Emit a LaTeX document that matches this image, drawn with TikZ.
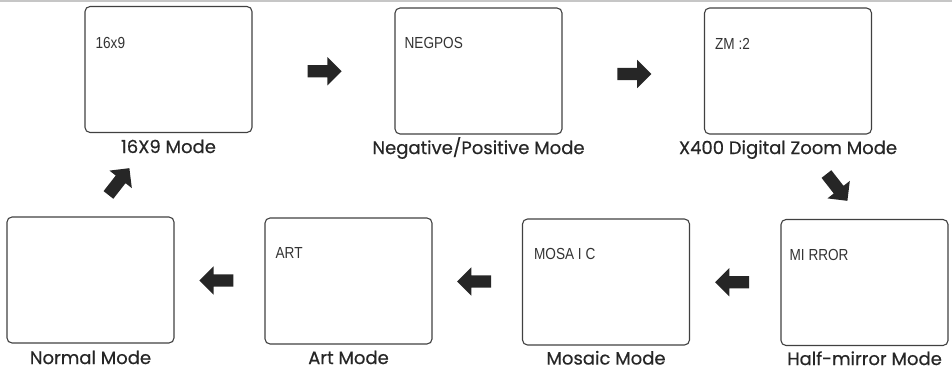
\documentclass[tikz,border=0pt]{standalone}
\usepackage{fontspec}
\setmainfont{Poppins}[FakeBold=0.5]
\newfontfamily\scrfont{Liberation Sans}
\usetikzlibrary{shapes.arrows,calc}
\begin{document}
\begin{tikzpicture}[x=1pt,y=1pt,
  screen/.style={draw=black!75, line width=1.1pt, rounded corners=5pt,
    minimum width=167pt, minimum height=126pt, inner sep=0pt},
  lbl/.style={font=\fontsize{18}{20}\selectfont, text=black!85, inner sep=0pt, anchor=base},
  scr/.style={font=\scrfont\fontsize{16}{18}\selectfont, text=black!80, inner sep=0pt, anchor=west, xscale=0.85},
  blk/.style={single arrow, fill=black!85, draw=none, minimum width=28pt,
    minimum height=34pt, single arrow head extend=8pt, inner xsep=0pt, inner ysep=6pt}]
\useasboundingbox (0,0) rectangle (952,370);
\draw[gray!45, line width=1.2pt] (0,369) -- (952,369);
% screens
\node[screen] (b1) at (168.5,300.5) {};
\node[screen] (b2) at (478.5,299) {};
\node[screen] (b3) at (788,299) {};
\node[screen] (nm) at (90.5,90) {};
\node[screen] (ar) at (348.5,89) {};
\node[screen] (ms) at (606,88) {};
\node[screen] (mr) at (864.5,87.5) {};
% screen texts
\node[scr] (t1) at ($(b1.north west)+(11,-37)$) {16x9};
\node[scr] (t2) at ($(b2.north west)+(10,-36)$) {NEGPOS};
\node[scr] (t3) at ($(b3.north west)+(11,-36)$) {ZM :2};
\node[scr] (t5) at ($(ar.north west)+(11,-36)$) {ART};
\node[scr] (t6) at ($(ms.north west)+(12,-36)$) {MOSA I C};
\node[scr] (t7) at ($(mr.north west)+(9,-36)$) {MI RROR};
% labels
\node[lbl] (l1) at ($(b1.south)+(0,-20)$) {16X9 Mode};
\node[lbl] (l2) at ($(b2.south)+(0,-19.5)$) {Negative/Positive Mode};
\node[lbl] (l3) at ($(b3.south)+(0,-19.5)$) {X400 Digital Zoom Mode};
\node[lbl] (l4) at ($(nm.south)+(0,-20.5)$) {Normal Mode};
\node[lbl] (l5) at ($(ar.south)+(0,-19.5)$) {Art Mode};
\node[lbl] (l6) at ($(ms.south)+(0,-19)$) {Mosaic Mode};
\node[lbl] (l7) at ($(mr.south)+(0,-19)$) {Half-mirror Mode};
% arrows
\node[blk] (a1) at ($(b1.east)!0.5!(b2.west)+(-2,-1)$) {};
\node[blk] (a2) at ($(b2.east)!0.5!(b3.west)+(-2,-3)$) {};
\node[blk, rotate=-52] (a3) at (835,185) {};
\node[blk, rotate=180] (a4) at ($(mr.west)!0.5!(ms.east)$) {};
\node[blk, rotate=180] (a5) at ($(ms.west)!0.5!(ar.east)$) {};
\node[blk, rotate=180] (a6) at ($(ar.west)!0.5!(nm.east)$) {};
\node[blk, rotate=52] (a7) at (117,186) {};
\end{tikzpicture}
\end{document}
